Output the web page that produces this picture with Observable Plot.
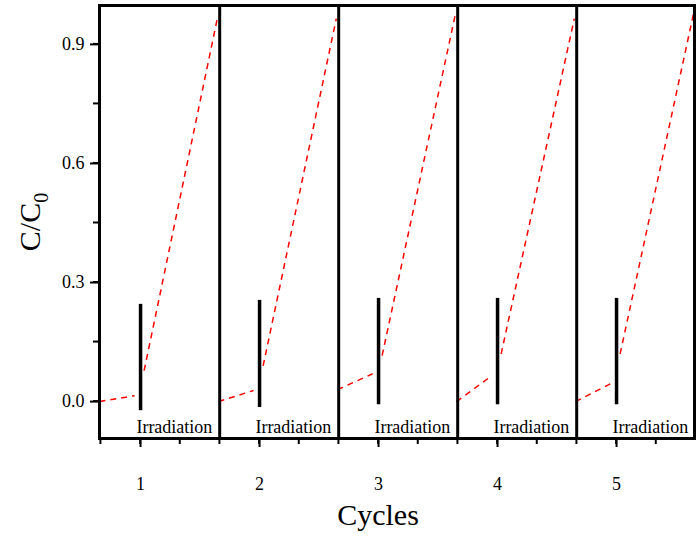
<!DOCTYPE html><html><head><meta charset="utf-8">
<script src="https://cdn.jsdelivr.net/npm/d3@7"></script>
<script src="https://cdn.jsdelivr.net/npm/@observablehq/plot@0.6"></script>
<style>body{margin:0;background:#fff}svg text{font-family:"Liberation Serif",serif}</style></head><body><div id="c"></div>
<script>
const cycles=[1,2,3,4,5];
const darkStartY=[0,0,0.03,0,0];
const darkEndY=[0.015,0.028,0.07,0.065,0.045];
const lightStartY=[0.078,0.09,0.116,0.12,0.12];
const lightEndY=[0.965,0.965,0.975,0.965,0.975];
const barTop=[0.245,0.255,0.26,0.26,0.26];
const barBottom=[-0.023,-0.015,-0.008,-0.008,-0.008];
const separators=[1.665,2.665,3.665,4.665];
const yTicks=[0,0.3,0.6,0.9];
const segs=[];
cycles.forEach((c,i)=>{
  segs.push({x1:c-0.345,y1:darkStartY[i],x2:c-0.05,y2:darkEndY[i]});
  segs.push({x1:c+0.03,y1:lightStartY[i],x2:c+0.645,y2:lightEndY[i]});
});
const bars=cycles.map((c,i)=>({x:c,y1:barBottom[i],y2:barTop[i]}));
const minorX=d3.range(0.667,5.66,1/3);
const minorY=d3.range(0,1.0,0.15);
const chart=Plot.plot({
  width:700,height:537,marginLeft:99,marginRight:6,marginTop:5,marginBottom:99,
  style:{fontFamily:"Liberation Serif",fontSize:"18px",color:"#000"},
  x:{domain:[0.655,5.655],ticks:cycles,tickFormat:d=>d,tickSize:9,label:null,tickPadding:30},
  y:{domain:[-0.093,0.998],ticks:yTicks,tickFormat:d3.format(".1f"),tickSize:9,label:null,tickPadding:6},
  marks:[
    Plot.link(segs,{x1:"x1",y1:"y1",x2:"x2",y2:"y2",stroke:"red",strokeWidth:1.5,strokeDasharray:"6,5"}),
    Plot.ruleX(bars,{x:"x",y1:"y1",y2:"y2",strokeWidth:3.5,stroke:"#000"}),
    Plot.text(bars,{x:d=>d.x-0.035,y:-0.065,text:()=>"Irradiation",textAnchor:"start",fontSize:18}),
    Plot.ruleX(separators,{strokeWidth:3}),
    Plot.frame({strokeWidth:3})
  ]
});
document.getElementById("c").appendChild(chart);
const svg=d3.select(chart);
svg.attr("font-family","Liberation Serif").attr("font-size",18);
svg.selectAll("text").style("font-family","Liberation Serif");
svg.selectAll("g[aria-label$='tick label']").attr("font-size",18);
const xs=chart.scale("x"), ys=chart.scale("y");
minorX.forEach(v=>svg.append("line").attr("x1",xs.apply(v)).attr("x2",xs.apply(v)).attr("y1",438).attr("y2",444).attr("stroke","#000").attr("stroke-width",2));
minorY.forEach(v=>svg.append("line").attr("y1",ys.apply(v)).attr("y2",ys.apply(v)).attr("x1",99).attr("x2",93).attr("stroke","#000").attr("stroke-width",2));
svg.selectAll("g[aria-label$='tick'] path").attr("stroke-width",2);
svg.append("text").attr("x",378).attr("y",525).attr("text-anchor","middle").attr("font-size",30).attr("font-family","Liberation Serif").text("Cycles");
const t=svg.append("text").attr("transform","translate(40,222) rotate(-90)").attr("text-anchor","middle").attr("font-size",30).attr("font-family","Liberation Serif");
t.append("tspan").text("C/C");
t.append("tspan").attr("font-size",20).attr("dy",8).text("0");
</script></body></html>
